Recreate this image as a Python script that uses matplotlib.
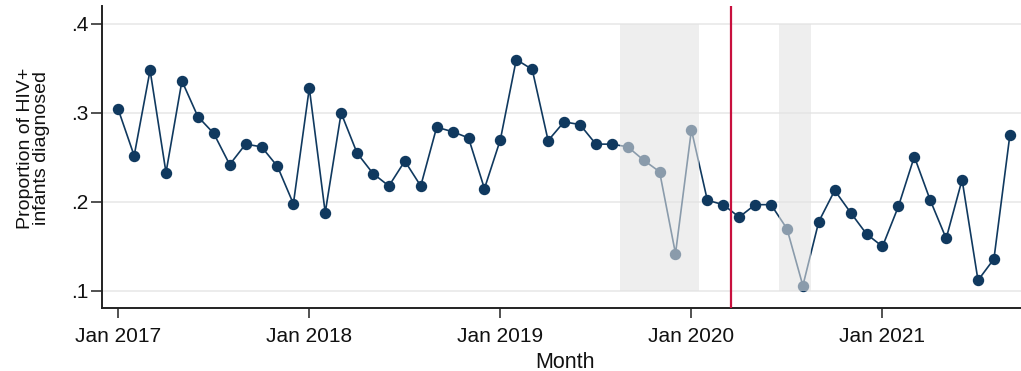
import matplotlib
matplotlib.use("Agg")
import matplotlib.pyplot as plt

plt.rcParams['font.family'] = ['Liberation Sans', 'DejaVu Sans']

# Monthly proportion of HIV+ infants diagnosed, Jan 2017 - Sep 2021
proportion = [
    0.304, 0.252, 0.348, 0.233, 0.336, 0.296, 0.277, 0.242, 0.265, 0.262, 0.240, 0.198,  # 2017
    0.328, 0.188, 0.300, 0.255, 0.232, 0.218, 0.246, 0.218, 0.284, 0.279, 0.272, 0.215,  # 2018
    0.270, 0.360, 0.349, 0.269, 0.290, 0.287, 0.265, 0.265, 0.262, 0.247, 0.234, 0.142,  # 2019
    0.281, 0.202, 0.197, 0.183, 0.197, 0.197, 0.170, 0.106, 0.178, 0.213, 0.188, 0.164,  # 2020
    0.150, 0.195, 0.251, 0.202, 0.159, 0.225, 0.112, 0.136, 0.275,                      # 2021
]
month_index = list(range(len(proportion)))

tick_months = [0, 12, 24, 36, 48]
tick_labels = ["Jan 2017", "Jan 2018", "Jan 2019", "Jan 2020", "Jan 2021"]
y_ticks = [0.1, 0.2, 0.3, 0.4]
y_tick_labels = [".1", ".2", ".3", ".4"]

# greyed-out periods (month index ranges) and the intervention month
grey_periods = [(31.5, 36.5), (41.5, 43.5)]
intervention_month = 38.5

navy = "#10395f"

fig = plt.figure(figsize=(10.21, 3.71), dpi=100)
ax = fig.add_axes([102 / 1021, 1 - 308 / 371, 1 - 102 / 1021, (308 - 6) / 371])

ax.plot(month_index, proportion, color=navy, lw=1.2, marker="o",
        markersize=7.2, markerfacecolor=navy, markeredgecolor=navy, zorder=3)

for x0, x1 in grey_periods:
    ax.fill_between([x0, x1], 0.1, 0.4, color="#e3e3e3", alpha=0.58,
                    lw=0, zorder=4)

ax.axvline(intervention_month, color="#c8103e", lw=1.6, zorder=5)

ax.set_xlim(-1.02, 56.7)
ax.set_ylim(0.0809, 0.4202)

ax.set_xticks(tick_months)
ax.set_xticklabels(tick_labels, fontsize=15)
ax.set_yticks(y_ticks)
ax.set_yticklabels(y_tick_labels, fontsize=15)
ax.tick_params(axis="x", direction="out", length=7, width=1.1, pad=7, colors="#222222")
ax.tick_params(axis="y", direction="out", length=8, width=1.1, pad=2, colors="#222222")
for lbl in ax.get_xticklabels() + ax.get_yticklabels():
    lbl.set_color("#111111")

ax.grid(axis="y", color="#ebebeb", lw=1.3, zorder=0)
ax.set_axisbelow(True)

for side in ["top", "right"]:
    ax.spines[side].set_visible(False)
for side in ["left", "bottom"]:
    ax.spines[side].set_linewidth(1.4)
    ax.spines[side].set_color("#222222")

ax.set_xlabel("Month", fontsize=15.5, color="#111111")
ax.xaxis.set_label_coords(0.504, -0.145)
ax.set_ylabel("Proportion of HIV+\ninfants diagnosed", fontsize=14,
              linespacing=0.95, color="#111111")
ax.yaxis.set_label_coords(-0.0566, 0.53)

fig.savefig("out.png", dpi=100)
